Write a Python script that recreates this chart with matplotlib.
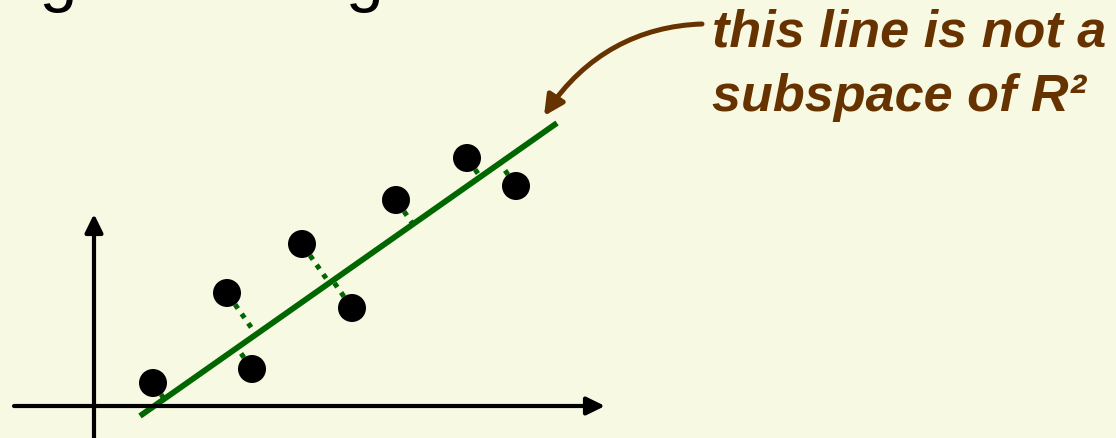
import numpy as np
import matplotlib
matplotlib.use("Agg")
import matplotlib.pyplot as plt
from matplotlib.patches import FancyArrowPatch
from matplotlib.path import Path

# --- data (plot units: origin at the axes crossing) ---
point_x = [1.18, 3.16, 2.66, 4.16, 5.16, 6.04, 7.46, 8.44]
point_y = [0.46, 0.74, 2.26, 3.24, 1.96, 4.12, 4.96, 4.40]

fit_slope = 0.7026
fit_intercept = -0.846
fit_x_range = [0.92, 9.26]

x_axis_range = [-1.60, 10.22]
y_axis_range = [-0.80, 3.84]

title_text = "Best-fitting line using data"
note_lines = ["this line is not a", "subspace of R\u00b2"]

# --- styling ---
BG = "#F8F9E3"
GREEN = "#006600"
BROWN = "#663300"
PX = 50.0  # pixels per plot unit

fig = plt.figure(figsize=(11.16, 4.39), dpi=100, facecolor=BG)
ax = fig.add_axes([0, 0, 1, 1])
ax.set_facecolor(BG)
ax.set_xlim(-94 / PX, (1116 - 94) / PX)
ax.set_ylim(-(439 - 407) / PX, 407 / PX)
ax.axis("off")

# coordinate axes with arrowheads
ax.add_patch(FancyArrowPatch((x_axis_range[0], 0), (x_axis_range[1], 0),
                             arrowstyle="-|>,head_length=0.55,head_width=0.27",
                             mutation_scale=20, lw=3.0, color="black",
                             shrinkA=0, shrinkB=0, zorder=5))
ax.add_patch(FancyArrowPatch((0, y_axis_range[0]), (0, y_axis_range[1]),
                             arrowstyle="-|>,head_length=0.55,head_width=0.27",
                             mutation_scale=20, lw=3.0, color="black",
                             shrinkA=0, shrinkB=0, zorder=5))

# fitted line
fx = np.array(fit_x_range)
fy = fit_slope * fx + fit_intercept
ax.plot(fx, fy, color=GREEN, lw=4.2, solid_capstyle="butt", zorder=4)

# perpendicular residuals from each point to the line
d = np.array([1.0, fit_slope]) / np.hypot(1.0, fit_slope)
r_pt = 14 / PX
for x, y in zip(point_x, point_y):
    p = np.array([x, y])
    a = np.array([0.0, fit_intercept])
    foot = a + np.dot(p - a, d) * d
    v = foot - p
    dist = np.hypot(*v)
    if dist <= r_pt:
        continue
    start = p + v / dist * r_pt
    ax.plot([start[0], foot[0]], [start[1], foot[1]], color=GREEN, lw=3.6,
            linestyle=(0, (1, 1.3)), dash_capstyle="butt", zorder=2)

# data points
ax.scatter(point_x, point_y, s=(28 * 72 / 100) ** 2, color="black",
           edgecolors="none", zorder=3)

# title above (only its descenders fall inside the frame)
ax.text(-6.76, 8.16, title_text, fontsize=49, family="Liberation Sans",
        color="black", ha="left", va="baseline")

# callout text
for line, (tx, ty) in zip(note_lines, [(12.36, 7.22), (12.36, 5.93)]):
    ax.text(tx, ty, line, fontsize=37.5, family="Liberation Sans",
            fontweight="bold", fontstyle="italic", color=BROWN,
            ha="left", va="baseline")

# curved callout arrow
def px2d(x, y):
    return ((x - 94) / PX, (407 - y) / PX)

verts = [px2d(702, 25), px2d(640, 27), px2d(585, 55), px2d(544, 117)]
curve = Path(verts, [Path.MOVETO, Path.CURVE4, Path.CURVE4, Path.CURVE4])
ax.add_patch(FancyArrowPatch(path=curve,
                             arrowstyle="-|>,head_length=0.6,head_width=0.3",
                             mutation_scale=20, lw=3.6, color=BROWN,
                             zorder=6))

fig.savefig("out.png", dpi=100, facecolor=BG)
